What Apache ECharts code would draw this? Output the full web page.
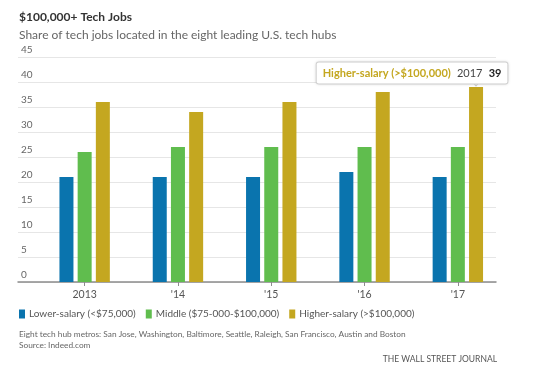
<!DOCTYPE html>
<html><head><meta charset="utf-8">
<script src="https://cdn.jsdelivr.net/npm/echarts@6/dist/echarts.min.js"></script>
<style>html,body{margin:0;padding:0;background:#fff}#c{width:533px;height:366px}</style>
</head><body><div id="c"></div>
<script>
var categories = ['2013', "'14", "'15", "'16", "'17"];
var years = ['2013', '2014', '2015', '2016', '2017'];
var seriesNames = ['Lower-salary (<$75,000)', 'Middle ($75-000-$100,000)', 'Higher-salary (>$100,000)'];
var lowerSalary = [21, 21, 21, 22, 21];
var middleSalary = [26, 27, 27, 27, 27];
var higherSalary = [36, 34, 36, 38, 39];
var yTicks = [0, 5, 10, 15, 20, 25, 30, 35, 40, 45];
var colors = ['#0a74ae', '#60bd4e', '#c4a720'];
var FONT = 'Lato, "Open Sans", sans-serif';

var chart = echarts.init(document.getElementById('c'), null, {renderer: 'canvas'});
var last = categories.length - 1;
var tipLabel = '{a|' + seriesNames[2] + '}  {b|' + years[last] + '}  {c|' + higherSalary[last] + '}';

function bar(name, data, color, extra) {
  var s = {
    name: name, type: 'bar', data: data, xAxisIndex: 1, yAxisIndex: 1,
    barWidth: 14, barGap: '30%', itemStyle: {color: color}, animation: false
  };
  if (extra) Object.assign(s, extra);
  return s;
}

chart.setOption({
  animation: false,
  textStyle: {fontFamily: FONT},
  title: [
    {text: '$100,000+ Tech Jobs', left: 14, top: 6, textStyle: {fontFamily: FONT, fontSize: 12, fontWeight: 'bold', color: '#333'}},
    {text: 'Share of tech jobs located in the eight leading U.S. tech hubs', left: 14, top: 24, textStyle: {fontFamily: FONT, fontSize: 12, fontWeight: 'normal', color: '#666'}},
    {text: 'Eight tech hub metros: San Jose, Washington, Baltimore, Seattle, Raleigh, San Francisco, Austin and Boston\nSource: Indeed.com', left: 14, top: 324, textStyle: {fontFamily: FONT, fontSize: 8.3, fontWeight: 'normal', color: '#666', lineHeight: 11}},
    {text: 'THE WALL STREET JOURNAL', right: 31, top: 350, textStyle: {fontFamily: FONT, fontSize: 8.5, fontWeight: 'normal', color: '#555'}}
  ],
  legend: {
    left: 14, top: 304, itemWidth: 6, itemHeight: 9, itemGap: 10,
    icon: 'rect', data: seriesNames,
    textStyle: {fontFamily: FONT, fontSize: 10, color: '#555', padding: [0, 0, 0, -1]}
  },
  grid: [
    {left: 18, right: 37, top: 57, bottom: 84},
    {left: 38, right: 28.5, top: 57, bottom: 84}
  ],
  xAxis: [
    {type: 'category', gridIndex: 0, data: categories, axisLine: {lineStyle: {color: '#8c8c8c', width: 1.5}}, axisTick: {show: false}, axisLabel: {show: false}},
    {type: 'category', gridIndex: 1, data: categories, axisLine: {show: false},
     axisTick: {show: true, alignWithLabel: true, length: 4, lineStyle: {color: '#8c8c8c'}},
     axisLabel: {fontFamily: FONT, fontSize: 10.5, color: '#555', margin: 7}}
  ],
  yAxis: [
    {type: 'value', gridIndex: 0, min: yTicks[0], max: yTicks[yTicks.length - 1], interval: yTicks[1] - yTicks[0],
     axisLine: {show: false}, axisTick: {show: false},
     splitLine: {lineStyle: {color: '#e6e6e6', width: 1}},
     axisLabel: {inside: true, margin: 3, verticalAlign: 'bottom', fontFamily: FONT, fontSize: 10, color: '#666', padding: [0, 0, 2, 0]}},
    {type: 'value', gridIndex: 1, min: yTicks[0], max: yTicks[yTicks.length - 1], show: false, splitLine: {show: false}}
  ],
  series: [
    bar(seriesNames[0], lowerSalary, colors[0]),
    bar(seriesNames[1], middleSalary, colors[1]),
    bar(seriesNames[2], higherSalary, colors[2], {
      markPoint: {
        silent: true,
        symbol: 'triangle', symbolRotate: 180, symbolSize: [10, 6], symbolOffset: [0, -4],
        itemStyle: {color: '#fff', borderColor: '#d0d0d0', borderWidth: 1},
        data: [{coord: [last, higherSalary[last]], value: higherSalary[last]}],
        label: {
          show: true, position: 'top', distance: -4, offset: [-64, 0],
          formatter: tipLabel,
          backgroundColor: '#fff', borderColor: '#d8d8d8', borderWidth: 1, borderRadius: 2,
          padding: [5, 6, 4, 6],
          shadowColor: 'rgba(0,0,0,0.12)', shadowBlur: 3,
          rich: {
            a: {fontFamily: FONT, fontSize: 11, fontWeight: 'bold', color: colors[2]},
            b: {fontFamily: FONT, fontSize: 11, color: '#444'},
            c: {fontFamily: FONT, fontSize: 11, fontWeight: 'bold', color: '#222'}
          }
        }
      }
    })
  ]
});
</script></body></html>
